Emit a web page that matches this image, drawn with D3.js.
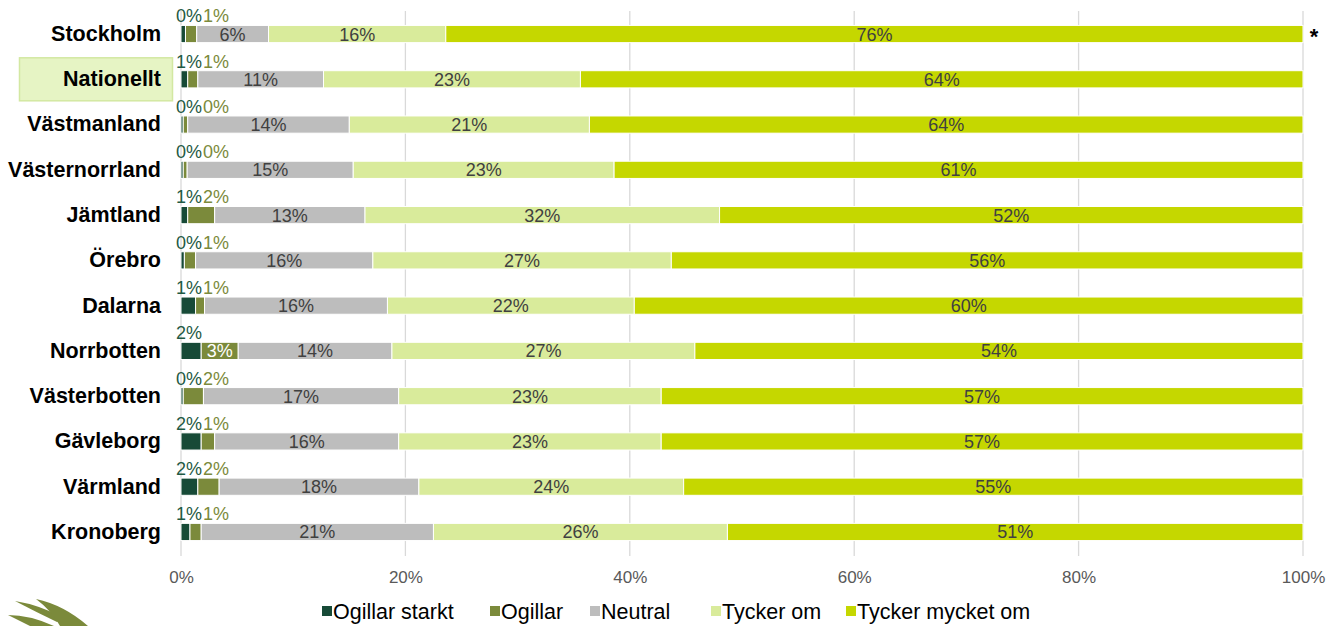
<!DOCTYPE html>
<html>
<head>
<meta charset="utf-8">
<script src="https://cdn.jsdelivr.net/npm/d3@7/dist/d3.min.js"></script>
<style>
  body { margin: 0; background: #fff; }
  svg { display: block; font-family: Arial, "Liberation Sans", sans-serif; }
</style>
</head>
<body>
<svg id="chart" width="1341" height="626"></svg>
<script>
// stacked 100% bars, one row per region

var regions = ['Stockholm', 'Nationellt', 'Västmanland', 'Västernorrland', 'Jämtland', 'Örebro',
  'Dalarna', 'Norrbotten', 'Västerbotten', 'Gävleborg', 'Värmland', 'Kronoberg']

var seriesNames = ['Ogillar starkt', 'Ogillar', 'Neutral', 'Tycker om', 'Tycker mycket om']

var ogillarStarkt = [0.4, 0.6, 0.2, 0.2, 0.6, 0.3, 1.3, 1.8, 0.2, 1.8, 1.5, 0.8]
var ogillar       = [1.0, 0.9, 0.4, 0.35, 2.4, 1.0, 0.8, 3.3, 1.8, 1.2, 1.9, 1.0]
var neutral       = [6.4, 11.2, 14.4, 14.8, 13.4, 15.8, 16.3, 13.7, 17.4, 16.4, 17.8, 20.7]
var tyckerOm      = [15.8, 22.9, 21.4, 23.25, 31.6, 26.6, 22.0, 27.0, 23.4, 23.4, 23.6, 26.2]
var tyckerMycket  = [76.4, 64.4, 63.6, 61.4, 52.0, 56.3, 59.6, 54.2, 57.2, 57.2, 55.2, 51.3]

var xTicks = [0, 20, 40, 60, 80, 100]
var highlighted = 'Nationellt'
var starred = 'Stockholm'

var colors = ['#174a37', '#7b8a3b', '#bdbdbd', '#d9eb9b', '#c5d700']
var labelColors = ['#1f5a44', '#7b8a3b']

var rows = regions.map(function(r, i) {
  return { region: r, values: [ogillarStarkt[i], ogillar[i], neutral[i], tyckerOm[i], tyckerMycket[i]] }
})

var svg = d3.select('#chart')

var xScale = d3.scaleLinear().domain([0, 100]).range([181, 1303])
var yScale = d3.scaleBand()
  .domain(regions)
  .range([11.4, 554.6])
  .paddingInner(0.62)
  .paddingOuter(0.31)

// highlight box behind "Nationellt"
svg.append('rect')
  .attr('x', 19.5)
  .attr('y', yScale(highlighted) + yScale.bandwidth() / 2 - 21.5)
  .attr('width', 153)
  .attr('height', 43)
  .attr('fill', '#e6f4c4')
  .attr('stroke', '#d3e8a2')
  .attr('stroke-width', 1.5)

// gridlines
svg.append('g')
  .selectAll('line')
  .data(xTicks)
  .join('line')
  .attr('x1', d => xScale(d)).attr('x2', d => xScale(d))
  .attr('y1', 11).attr('y2', 556)
  .attr('stroke', '#d9d9d9')
  .attr('stroke-width', 1.3)

// x axis
var xAxis = d3.axisBottom(xScale)
  .tickValues(xTicks)
  .tickSize(0)
  .tickPadding(0)
  .tickFormat(d => d + '%')

svg.append('g')
  .attr('transform', 'translate(0,567)')
  .call(xAxis)
  .call(g => g.select('.domain').remove())
  .selectAll('text')
  .attr('dy', '16px')
  .attr('fill', '#595959')
  .style('font-size', '17px')
  .style('font-family', 'Arial, "Liberation Sans", sans-serif')

// bars
var rowG = svg.append('g')
  .selectAll('g')
  .data(rows)
  .join('g')
  .attr('transform', d => 'translate(0,' + yScale(d.region) + ')')

rowG.each(function(d) {
  var g = d3.select(this)
  var cum = 0
  var segs = d.values.map(function(v, k) {
    var s = { k: k, v: v, x0: cum, x1: cum + v }
    cum += v
    return s
  })
  var bh = yScale.bandwidth()

  g.selectAll('rect')
    .data(segs)
    .join('rect')
    .attr('x', s => xScale(s.x0))
    .attr('width', s => xScale(s.x1) - xScale(s.x0))
    .attr('y', 0)
    .attr('height', bh)
    .attr('fill', s => colors[s.k])
    .attr('stroke', '#fff')
    .attr('stroke-width', 1)

  segs.forEach(function(s) {
    var txt = Math.round(s.v) + '%'
    if (s.k == 0) {
      g.append('text')
        .attr('x', 189)
        .attr('y', -3)
        .attr('text-anchor', 'middle')
        .attr('fill', labelColors[0])
        .style('font-size', '18px')
        .text(txt)
    } else if (s.k == 1 && s.v < 3) {
      g.append('text')
        .attr('x', 203)
        .attr('y', -3)
        .attr('fill', labelColors[1])
        .style('font-size', '18px')
        .text(txt)
    } else {
      g.append('text')
        .attr('x', (xScale(s.x0) + xScale(s.x1)) / 2)
        .attr('y', bh / 2)
        .attr('dy', '0.36em')
        .attr('text-anchor', 'middle')
        .attr('fill', s.k == 1 ? '#fff' : '#404040')
        .style('font-size', '18px')
        .text(txt)
    }
  })
})

// category labels
var yAxis = d3.axisLeft(yScale).tickSize(0).tickPadding(0)
svg.append('g')
  .attr('transform', 'translate(161,0)')
  .call(yAxis)
  .call(g => g.select('.domain').remove())
  .selectAll('text')
  .attr('fill', '#000')
  .style('font-size', '21.5px')
  .style('font-weight', 'bold')
  .style('font-family', 'Arial, "Liberation Sans", sans-serif')

// asterisk after Stockholm
svg.append('text')
  .attr('x', 1314)
  .attr('y', yScale(starred) + yScale.bandwidth() / 2 + 10)
  .attr('text-anchor', 'middle')
  .style('font-size', '22px')
  .style('font-weight', 'bold')
  .text('*')

// legend
var legendX = [322, 490, 590, 711, 846]
var legend = svg.append('g')
  .selectAll('g')
  .data(seriesNames)
  .join('g')
  .attr('transform', (d, i) => 'translate(' + legendX[i] + ',0)')

legend.append('rect')
  .attr('x', 0).attr('y', 606)
  .attr('width', 10).attr('height', 10)
  .attr('fill', (d, i) => colors[i])

legend.append('text')
  .attr('x', 11)
  .attr('y', 619)
  .attr('fill', '#000')
  .style('font-size', '21.5px')
  .text(d => d)

// logo leaves in the corner
var logo = svg.append('g').attr('fill', '#7b8a3b')
logo.append('path').attr('d', 'M15,601 Q40,605 64,618 L57,622 Q36,612 15,601 Z')
logo.append('path').attr('d', 'M36,599 Q64,605 88,626 L60,626 Q52,611 36,599 Z')
logo.append('path').attr('d', 'M8,615 Q30,615 54,626 L30,626 Q18,620 8,615 Z')
</script>
</body>
</html>
